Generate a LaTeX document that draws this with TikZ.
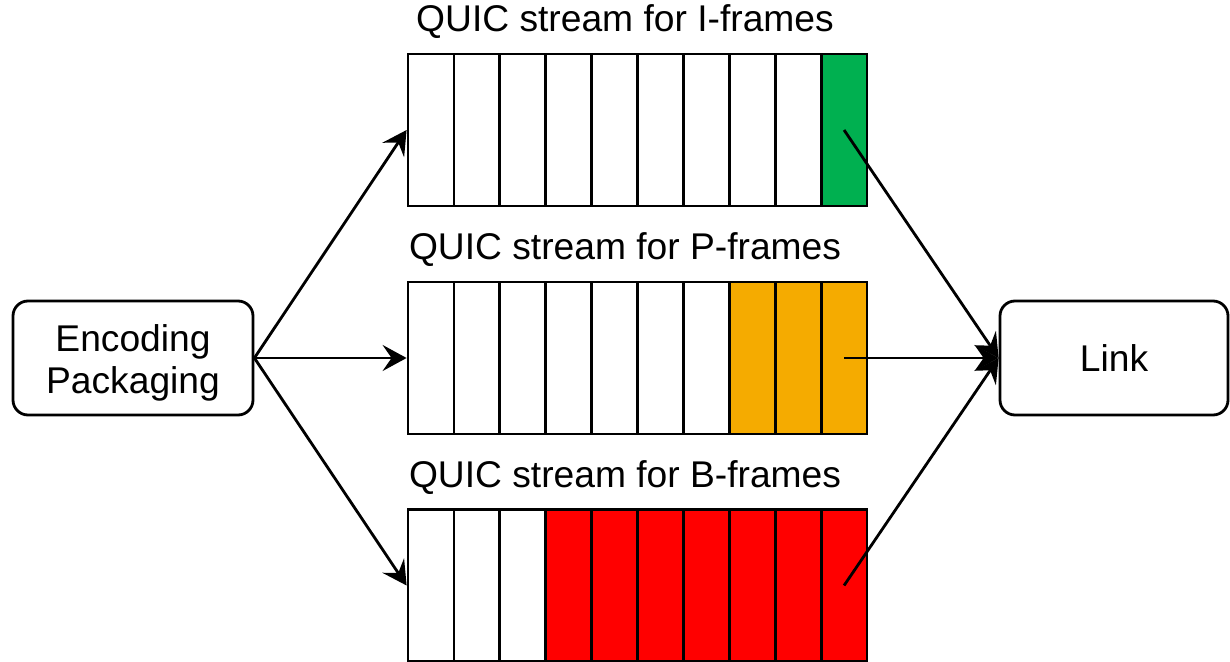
\documentclass[tikz,border=0pt]{standalone}
\usepackage{fontspec}
\setmainfont{Liberation Sans}
\usetikzlibrary{positioning}
\usetikzlibrary{arrows.meta}

\definecolor{igreen}{HTML}{00B050}
\definecolor{porange}{HTML}{F5AB00}
\definecolor{bred}{HTML}{FF0000}

\begin{document}
\begin{tikzpicture}[
    box/.style={draw, line width=1.4pt, rounded corners=7.5pt, minimum height=57pt, align=center},
    cell/.style={draw, line width=1.4pt, minimum width=22.95pt, minimum height=76pt, inner sep=0pt},
    conn/.style={line width=1.4pt, -{Stealth[length=12pt, width=13pt, inset=4.5pt]}},
    font=\fontsize{18.6}{21}\selectfont
  ]
  \useasboundingbox (0,0) rectangle (615pt,-331pt);

  \node[box, minimum width=120pt, text height=39.5pt] (enc) at (66.5pt,-179pt) {Encoding\\Packaging};
  \node[box, minimum width=114pt] (link) at (557pt,-179pt) {Link};

  % one row per stream: name/height/filled cells/colour/frame type
  \foreach \s/\y/\n/\c/\f in {i/-65pt/1/igreen/I, p/-179pt/3/porange/P, b/-292.75pt/7/bred/B}
  {
    \foreach \k in {1,...,10}
    {
      \ifnum\k>\numexpr10-\n\relax \def\fc{\c}\else \def\fc{white}\fi
      \node[cell, fill=\fc] (\s\k) at ({204pt+22.95pt*(\k-0.5)}, \y) {};
    }
    \node (\s head) at (312.5pt, {\y+54pt}) {QUIC stream for \f-frames};
  }

  \foreach \s in {i,p,b}
  {
    \draw[conn] (enc.east) -- (\s1.west);
    \draw[conn] (\s10.center) -- (link.west);
  }
\end{tikzpicture}
\end{document}
